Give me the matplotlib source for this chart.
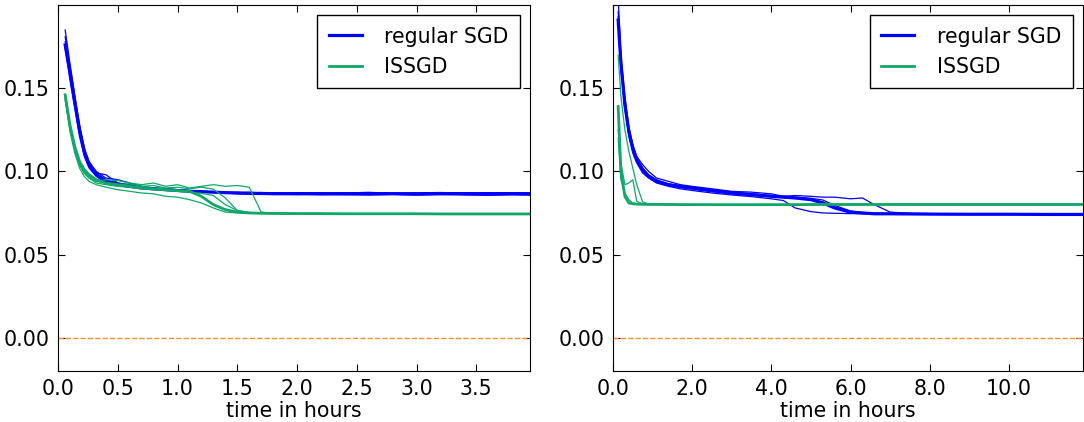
import matplotlib
matplotlib.use('Agg')
import matplotlib.pyplot as plt
from matplotlib.ticker import FormatStrFormatter

# ---- left run: training time up to ~4 hours ----
t_left = [0.06, 0.10, 0.14, 0.18, 0.22, 0.26, 0.32, 0.40, 0.50, 0.60, 0.70,
          0.80, 0.90, 1.00, 1.10, 1.20, 1.30, 1.40, 1.50, 1.60, 1.70, 1.80,
          2.00, 2.20, 2.40, 2.60, 2.80, 3.00, 3.20, 3.40, 3.60, 3.80, 3.95]

sgd_left = [
    [0.176, 0.160, 0.142, 0.125, 0.112, 0.104, 0.098, 0.094, 0.092, 0.091, 0.090,
     0.0895, 0.089, 0.0885, 0.088, 0.0878, 0.0875, 0.0872, 0.087, 0.0868, 0.0867, 0.0866,
     0.0865, 0.0866, 0.0864, 0.0865, 0.0866, 0.0864, 0.0865, 0.0866, 0.0864, 0.0866, 0.0865],
    [0.185, 0.165, 0.146, 0.128, 0.114, 0.106, 0.100, 0.096, 0.095, 0.093, 0.091,
     0.090, 0.0895, 0.089, 0.0885, 0.088, 0.0876, 0.0874, 0.0872, 0.0875, 0.087, 0.0868,
     0.0872, 0.0869, 0.087, 0.0874, 0.0868, 0.0871, 0.0873, 0.0869, 0.0872, 0.087, 0.0871],
    [0.178, 0.158, 0.140, 0.124, 0.110, 0.103, 0.099, 0.098, 0.093, 0.092, 0.0905,
     0.0898, 0.0892, 0.0888, 0.0884, 0.0879, 0.0874, 0.0869, 0.0866, 0.0862, 0.0864, 0.0861,
     0.0863, 0.0859, 0.0862, 0.0858, 0.0861, 0.0857, 0.0862, 0.0858, 0.0856, 0.0859, 0.0857],
    [0.174, 0.155, 0.138, 0.121, 0.109, 0.102, 0.097, 0.093, 0.0915, 0.0905, 0.0898,
     0.0892, 0.0888, 0.0884, 0.0881, 0.0877, 0.0873, 0.0871, 0.0869, 0.0871, 0.0868, 0.087,
     0.0867, 0.0869, 0.0866, 0.0868, 0.0865, 0.0867, 0.0869, 0.0866, 0.0868, 0.0865, 0.0867],
    [0.181, 0.162, 0.144, 0.127, 0.113, 0.105, 0.099, 0.095, 0.093, 0.0915, 0.0902,
     0.0894, 0.0889, 0.0886, 0.0882, 0.0879, 0.0876, 0.0873, 0.0874, 0.0871, 0.0873, 0.0869,
     0.0871, 0.0868, 0.0872, 0.0867, 0.0870, 0.0868, 0.0866, 0.0870, 0.0867, 0.0871, 0.0868],
]

issgd_left = [
    [0.146, 0.128, 0.115, 0.106, 0.101, 0.098, 0.095, 0.093, 0.092, 0.091, 0.090,
     0.0895, 0.089, 0.0885, 0.088, 0.085, 0.080, 0.077, 0.0755, 0.075, 0.0748, 0.0747,
     0.0746, 0.0746, 0.0745, 0.0745, 0.0745, 0.0745, 0.0744, 0.0744, 0.0744, 0.0744, 0.0744],
    [0.144, 0.126, 0.113, 0.104, 0.099, 0.096, 0.094, 0.095, 0.0945, 0.093, 0.092,
     0.093, 0.091, 0.092, 0.090, 0.091, 0.092, 0.091, 0.0915, 0.0905, 0.0755, 0.0749,
     0.0747, 0.0746, 0.0746, 0.0745, 0.0745, 0.0744, 0.0744, 0.0744, 0.0743, 0.0743, 0.0743],
    [0.143, 0.124, 0.111, 0.102, 0.097, 0.094, 0.092, 0.0905, 0.089, 0.088, 0.087,
     0.0865, 0.085, 0.0845, 0.083, 0.081, 0.078, 0.0755, 0.075, 0.0748, 0.0747, 0.0746,
     0.0745, 0.0745, 0.0744, 0.0744, 0.0744, 0.0743, 0.0743, 0.0743, 0.0743, 0.0743, 0.0743],
    [0.145, 0.127, 0.114, 0.105, 0.100, 0.097, 0.094, 0.093, 0.092, 0.0925, 0.091,
     0.0915, 0.090, 0.0905, 0.0895, 0.0905, 0.0893, 0.084, 0.0765, 0.0752, 0.0749, 0.0748,
     0.0747, 0.0746, 0.0746, 0.0745, 0.0745, 0.0745, 0.0744, 0.0744, 0.0744, 0.0744, 0.0744],
    [0.146, 0.127, 0.114, 0.104, 0.099, 0.096, 0.093, 0.092, 0.091, 0.0905, 0.0895,
     0.089, 0.0885, 0.088, 0.0875, 0.0868, 0.0855, 0.080, 0.0765, 0.0753, 0.0749, 0.0748,
     0.0747, 0.0747, 0.0746, 0.0746, 0.0745, 0.0745, 0.0745, 0.0745, 0.0745, 0.0745, 0.0745],
]

# ---- right run: training time up to ~12 hours ----
t_right = [0.13, 0.20, 0.30, 0.40, 0.50, 0.60, 0.75, 0.90, 1.10, 1.40, 1.70,
           2.00, 2.50, 3.00, 3.50, 4.00, 4.30, 4.60, 5.00, 5.30, 5.60, 6.00,
           6.30, 6.60, 7.00, 7.50, 8.00, 9.00, 10.00, 11.00, 11.90]

sgd_right = [
    [0.191, 0.165, 0.140, 0.124, 0.114, 0.107, 0.101, 0.097, 0.094, 0.092, 0.091,
     0.090, 0.0885, 0.087, 0.086, 0.085, 0.0845, 0.084, 0.083, 0.081, 0.078, 0.0755,
     0.075, 0.0745, 0.0745, 0.0744, 0.0743, 0.0742, 0.0742, 0.0741, 0.0741],
    [0.205, 0.170, 0.145, 0.127, 0.116, 0.109, 0.104, 0.100, 0.096, 0.094, 0.092,
     0.091, 0.0895, 0.088, 0.0875, 0.0865, 0.085, 0.0855, 0.085, 0.0845, 0.0845, 0.0835,
     0.084, 0.080, 0.0755, 0.0748, 0.0746, 0.0745, 0.0744, 0.0743, 0.0743],
    [0.193, 0.163, 0.138, 0.121, 0.111, 0.105, 0.099, 0.096, 0.093, 0.091, 0.0895,
     0.0885, 0.087, 0.0858, 0.0848, 0.0835, 0.0825, 0.078, 0.0758, 0.075, 0.0748, 0.0746,
     0.0745, 0.0745, 0.0744, 0.0744, 0.0743, 0.0743, 0.0742, 0.0742, 0.0742],
    [0.196, 0.167, 0.142, 0.125, 0.115, 0.108, 0.102, 0.098, 0.095, 0.0925, 0.0912,
     0.0903, 0.0888, 0.0875, 0.0866, 0.0855, 0.0851, 0.0846, 0.0838, 0.0828, 0.0795, 0.0762,
     0.0752, 0.0748, 0.0746, 0.0745, 0.0744, 0.0743, 0.0743, 0.0742, 0.0742],
    [0.189, 0.162, 0.139, 0.123, 0.113, 0.106, 0.100, 0.0965, 0.0935, 0.0915, 0.0902,
     0.0893, 0.0878, 0.0866, 0.0857, 0.0848, 0.0843, 0.0838, 0.0832, 0.0815, 0.0785, 0.0758,
     0.0751, 0.0747, 0.0745, 0.0744, 0.0743, 0.0742, 0.0742, 0.0741, 0.0741],
]

issgd_right = [
    [0.139, 0.100, 0.085, 0.081, 0.0805, 0.0803, 0.0802, 0.0801, 0.0801, 0.0801, 0.0800,
     0.0800, 0.0800, 0.0800, 0.0800, 0.0800, 0.0800, 0.0800, 0.0801, 0.0801, 0.0801, 0.0801,
     0.0801, 0.0801, 0.0801, 0.0801, 0.0801, 0.0801, 0.0801, 0.0801, 0.0801],
    [0.125, 0.105, 0.092, 0.093, 0.095, 0.082, 0.0805, 0.0803, 0.0802, 0.0801, 0.0801,
     0.0800, 0.0800, 0.0800, 0.0800, 0.0800, 0.0800, 0.0800, 0.0800, 0.0801, 0.0801, 0.0801,
     0.0801, 0.0801, 0.0801, 0.0801, 0.0801, 0.0801, 0.0801, 0.0801, 0.0801],
    [0.170, 0.145, 0.125, 0.112, 0.102, 0.092, 0.0815, 0.0805, 0.0803, 0.0802, 0.0801,
     0.0801, 0.0800, 0.0800, 0.0800, 0.0800, 0.0800, 0.0801, 0.0801, 0.0801, 0.0801, 0.0801,
     0.0802, 0.0802, 0.0802, 0.0802, 0.0802, 0.0802, 0.0802, 0.0802, 0.0802],
    [0.120, 0.095, 0.087, 0.083, 0.081, 0.0805, 0.0803, 0.0802, 0.0801, 0.0800, 0.0800,
     0.0799, 0.0799, 0.0799, 0.0799, 0.0799, 0.0800, 0.0800, 0.0800, 0.0800, 0.0800, 0.0800,
     0.0800, 0.0800, 0.0800, 0.0800, 0.0800, 0.0800, 0.0800, 0.0800, 0.0800],
]

left_ticks = [0.0, 0.5, 1.0, 1.5, 2.0, 2.5, 3.0, 3.5]
right_ticks = [0.0, 2.0, 4.0, 6.0, 8.0, 10.0]
y_ticks = [0.0, 0.05, 0.10, 0.15]

BLUE = '#0000ff'
GREEN = '#10a868'
ORANGE = '#ff9020'

plt.rcParams['font.family'] = 'DejaVu Sans'
plt.rcParams['font.size'] = 14.8
plt.rcParams['xtick.direction'] = 'in'
plt.rcParams['ytick.direction'] = 'in'
plt.rcParams['xtick.top'] = True
plt.rcParams['ytick.right'] = True
plt.rcParams['xtick.major.size'] = 5
plt.rcParams['ytick.major.size'] = 5
plt.rcParams['xtick.major.pad'] = 6
plt.rcParams['ytick.major.pad'] = 6


def draw_panel(ax, t, sgd_runs, issgd_runs, xmax, xticks):
    for i, run in enumerate(sgd_runs):
        ax.plot(t, run, color=BLUE, lw=2.3 if i == 0 else 0.9,
                label='regular SGD' if i == 0 else None)
    for i, run in enumerate(issgd_runs):
        ax.plot(t, run, color=GREEN, lw=2.0 if i == 0 else 0.9,
                label='ISSGD' if i == 0 else None)
    ax.axhline(0.0, color=ORANGE, ls='--', lw=1.0)
    ax.set_xlim(0, xmax)
    ax.set_ylim(-0.02, 0.2)
    ax.set_xticks(xticks)
    ax.set_yticks(y_ticks)
    ax.xaxis.set_major_formatter(FormatStrFormatter('%.1f'))
    ax.yaxis.set_major_formatter(FormatStrFormatter('%.2f'))
    ax.set_xlabel('time in hours', labelpad=1)
    leg = ax.legend(loc='upper right', fancybox=False, handlelength=1.6,
                    handletextpad=1.1, borderpad=0.55, borderaxespad=0.5,
                    framealpha=1.0)
    leg.get_frame().set_edgecolor('black')
    leg.get_frame().set_linewidth(1.0)


fig = plt.figure(figsize=(10.84, 4.22), dpi=100)
ax1 = fig.add_axes([0.0535, 0.121, 0.4355, 0.867])
ax2 = fig.add_axes([0.5655, 0.121, 0.4335, 0.867])

draw_panel(ax1, t_left, sgd_left, issgd_left, 3.95, left_ticks)
draw_panel(ax2, t_right, sgd_right, issgd_right, 11.87, right_ticks)

fig.savefig('out.png', dpi=100, facecolor='white')
